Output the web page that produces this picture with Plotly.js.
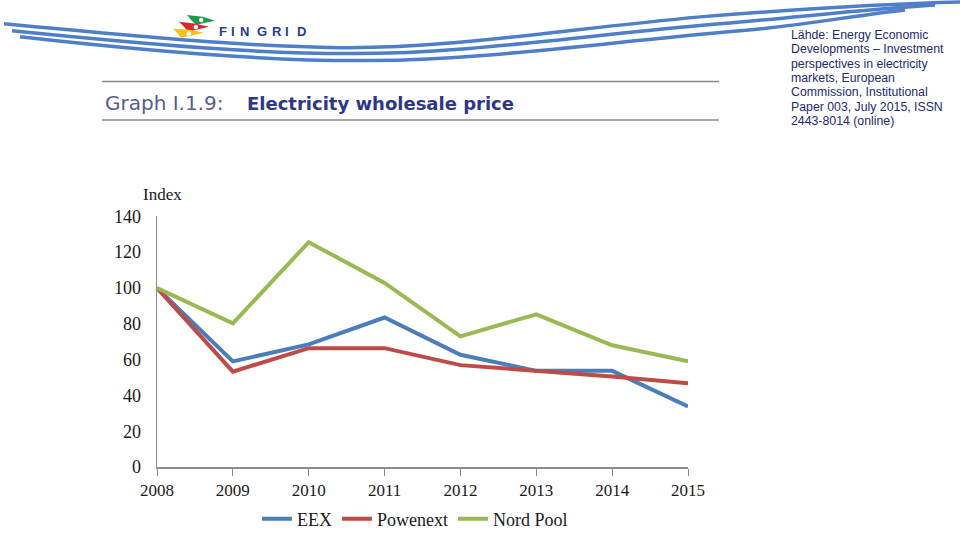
<!DOCTYPE html>
<html>
<head>
<meta charset="utf-8">
<script src="https://cdn.plot.ly/plotly-3.0.1.min.js"></script>
<style>html,body{margin:0;padding:0;background:#fff;}#chart{width:960px;height:538px;}</style>
</head>
<body>
<div id="chart"></div>
<script>
// ---- data ----
var years = ["2008", "2009", "2010", "2011", "2012", "2013", "2014", "2015"];
var eex = [100, 59, 68.5, 83.5, 62.7, 53.7, 53.7, 33.8];
var powenext = [100, 53.3, 66.4, 66.4, 56.9, 53.7, 50.6, 46.8];
var nordPool = [100, 80.2, 125.6, 102.8, 73.0, 85.3, 68.0, 59.0];
var seriesNames = ["EEX", "Powenext", "Nord Pool"];
var yTicks = [0, 20, 40, 60, 80, 100, 120, 140];
var sourceLines = [
  "Lähde: Energy Economic",
  "Developments – Investment",
  "perspectives in electricity",
  "markets, European",
  "Commission, Institutional",
  "Paper 003, July 2015, ISSN",
  "2443-8014 (online)"
];

// ---- helpers: pixel -> paper ----
var W = 960, H = 538;
function px(x) { return x / W; }
function py(y) { return 1 - y / H; }
function path(cmds) {
  return cmds.map(function (c) {
    var s = c[0];
    for (var i = 1; i < c.length; i += 2) {
      s += " " + px(c[i]).toFixed(5) + "," + py(c[i + 1]).toFixed(5);
    }
    return s;
  }).join(" ");
}

var traceColors = ["#4a7ebb", "#be4b48", "#98b954"];
var values = [eex, powenext, nordPool];
var traces = values.map(function (v, i) {
  return {
    x: years, y: v, name: seriesNames[i], type: "scatter", mode: "lines",
    line: { color: traceColors[i], width: 4 }
  };
});

var swooshColor = "#4f7fc9";
function swoosh(cmds, w) {
  return { type: "path", xref: "paper", yref: "paper", layer: "below",
    line: { color: swooshColor, width: w }, path: path(cmds) };
}
var shapes = [
  swoosh([["M", 4, 24], ["C", 150, 38, 250, 47, 340, 48], ["C", 450, 49, 560, 30, 700, 17], ["C", 800, 9, 880, 4, 960, 2]], 3.5),
  swoosh([["M", 12, 31], ["C", 160, 46, 260, 54, 350, 54], ["C", 470, 54, 580, 36, 720, 24], ["C", 810, 16, 870, 9, 935, 5]], 3.5),
  swoosh([["M", 20, 37], ["C", 170, 54, 280, 62, 370, 61], ["C", 490, 60, 600, 43, 740, 31], ["C", 810, 25, 850, 16, 905, 10]], 3.5),
  // logo flags
  { type: "path", xref: "paper", yref: "paper", line: { width: 0 }, fillcolor: "#1f9a4a",
    path: path([["M", 187, 15], ["L", 203, 17], ["L", 215, 21], ["L", 196, 25], ["L", 191, 20], ["Z"]]) },
  { type: "path", xref: "paper", yref: "paper", line: { width: 0 }, fillcolor: "#d8282c",
    path: path([["M", 179, 22], ["L", 196, 24], ["L", 209, 27], ["L", 188, 32], ["L", 184, 27], ["Z"]]) },
  { type: "path", xref: "paper", yref: "paper", line: { width: 0 }, fillcolor: "#f2c21b",
    path: path([["M", 173, 29], ["L", 190, 30], ["L", 204, 33], ["L", 181, 38], ["L", 177, 33], ["Z"]]) },
  { type: "circle", xref: "paper", yref: "paper", line: { width: 0 }, fillcolor: "#ffffff",
    x0: px(199), x1: px(203.5), y0: py(18), y1: py(22.5) },
  { type: "circle", xref: "paper", yref: "paper", line: { width: 0 }, fillcolor: "#ffffff",
    x0: px(193.5), x1: px(198), y0: py(25), y1: py(29.5) },
  { type: "circle", xref: "paper", yref: "paper", line: { width: 0 }, fillcolor: "#ffffff",
    x0: px(186.5), x1: px(191), y0: py(31.5), y1: py(36) },
  // title rules
  { type: "line", xref: "paper", yref: "paper", line: { color: "#8a8a8a", width: 1.5 },
    x0: px(102), x1: px(719), y0: py(82), y1: py(82) },
  { type: "line", xref: "paper", yref: "paper", line: { color: "#8a8a8a", width: 1.5 },
    x0: px(102), x1: px(719), y0: py(121), y1: py(121) }
];

var annotations = [];
// logo wordmark
var logoLetters = ["F", "I", "N", "G", "R", "I", "D"];
var logoX = [217, 229, 238, 255, 270, 283, 295];
logoLetters.forEach(function (ch, i) {
  annotations.push({ xref: "paper", yref: "paper", x: px(logoX[i]), y: py(32), xanchor: "left", yanchor: "middle",
    showarrow: false, text: "<b>" + ch + "</b>",
    font: { family: "Liberation Sans, Arial, sans-serif", size: 13, color: "#1b3f95" } });
});
// title
annotations.push({ xref: "paper", yref: "paper", x: px(103), y: py(104), xanchor: "left", yanchor: "middle",
  showarrow: false, text: "Graph I.1.9:",
  font: { family: "DejaVu Sans, sans-serif", size: 20, color: "#585c90" } });
annotations.push({ xref: "paper", yref: "paper", x: px(245), y: py(104), xanchor: "left", yanchor: "middle",
  showarrow: false, text: "<b>Electricity wholesale price</b>",
  font: { family: "DejaVu Sans, sans-serif", size: 18, color: "#2e3688" } });
// source
sourceLines.forEach(function (t, i) {
  annotations.push({ xref: "paper", yref: "paper", x: px(789), y: py(35 + 14.5 * i), xanchor: "left", yanchor: "middle",
    showarrow: false, text: t,
    font: { family: "Liberation Sans, Arial, sans-serif", size: 12.3, color: "#1d2b6e" } });
});
// y-axis unit label
annotations.push({ xref: "paper", yref: "paper", x: px(162), y: py(196), xanchor: "center", yanchor: "middle",
  showarrow: false, text: "Index",
  font: { family: "Liberation Serif, Times New Roman, serif", size: 17, color: "#1a1a1a" } });

var layout = {
  width: W, height: H,
  margin: { l: 0, r: 0, t: 0, b: 0, pad: 0 },
  paper_bgcolor: "#ffffff", plot_bgcolor: "#ffffff",
  font: { family: "Liberation Serif, Times New Roman, serif", size: 17, color: "#1a1a1a" },
  showlegend: true,
  legend: {
    orientation: "h", x: px(415), xanchor: "center", y: py(523), yanchor: "middle",
    font: { family: "Liberation Serif, Times New Roman, serif", size: 18, color: "#1a1a1a" },
    itemwidth: 30, tracegroupgap: 0
  },
  xaxis: {
    type: "category", domain: [px(157), px(688)], range: [0, 7],
    showgrid: false, zeroline: false, showline: true, linecolor: "#8c8c8c", linewidth: 1.5,
    ticks: "outside", ticklen: 7, tickcolor: "#8c8c8c", tickwidth: 1,
    tickfont: { family: "Liberation Serif, Times New Roman, serif", size: 17, color: "#1a1a1a" },
    fixedrange: true
  },
  yaxis: {
    domain: [py(470.5), py(218)], range: [0, 140], tickvals: yTicks,
    showgrid: false, zeroline: false, showline: true, linecolor: "#8c8c8c", linewidth: 1.5,
    ticks: "", ticklabelstandoff: 11,
    tickfont: { family: "Liberation Serif, Times New Roman, serif", size: 18, color: "#1a1a1a" },
    fixedrange: true
  },
  shapes: shapes,
  annotations: annotations
};

Plotly.newPlot("chart", traces, layout, { displayModeBar: false, staticPlot: true });
</script>
</body>
</html>
